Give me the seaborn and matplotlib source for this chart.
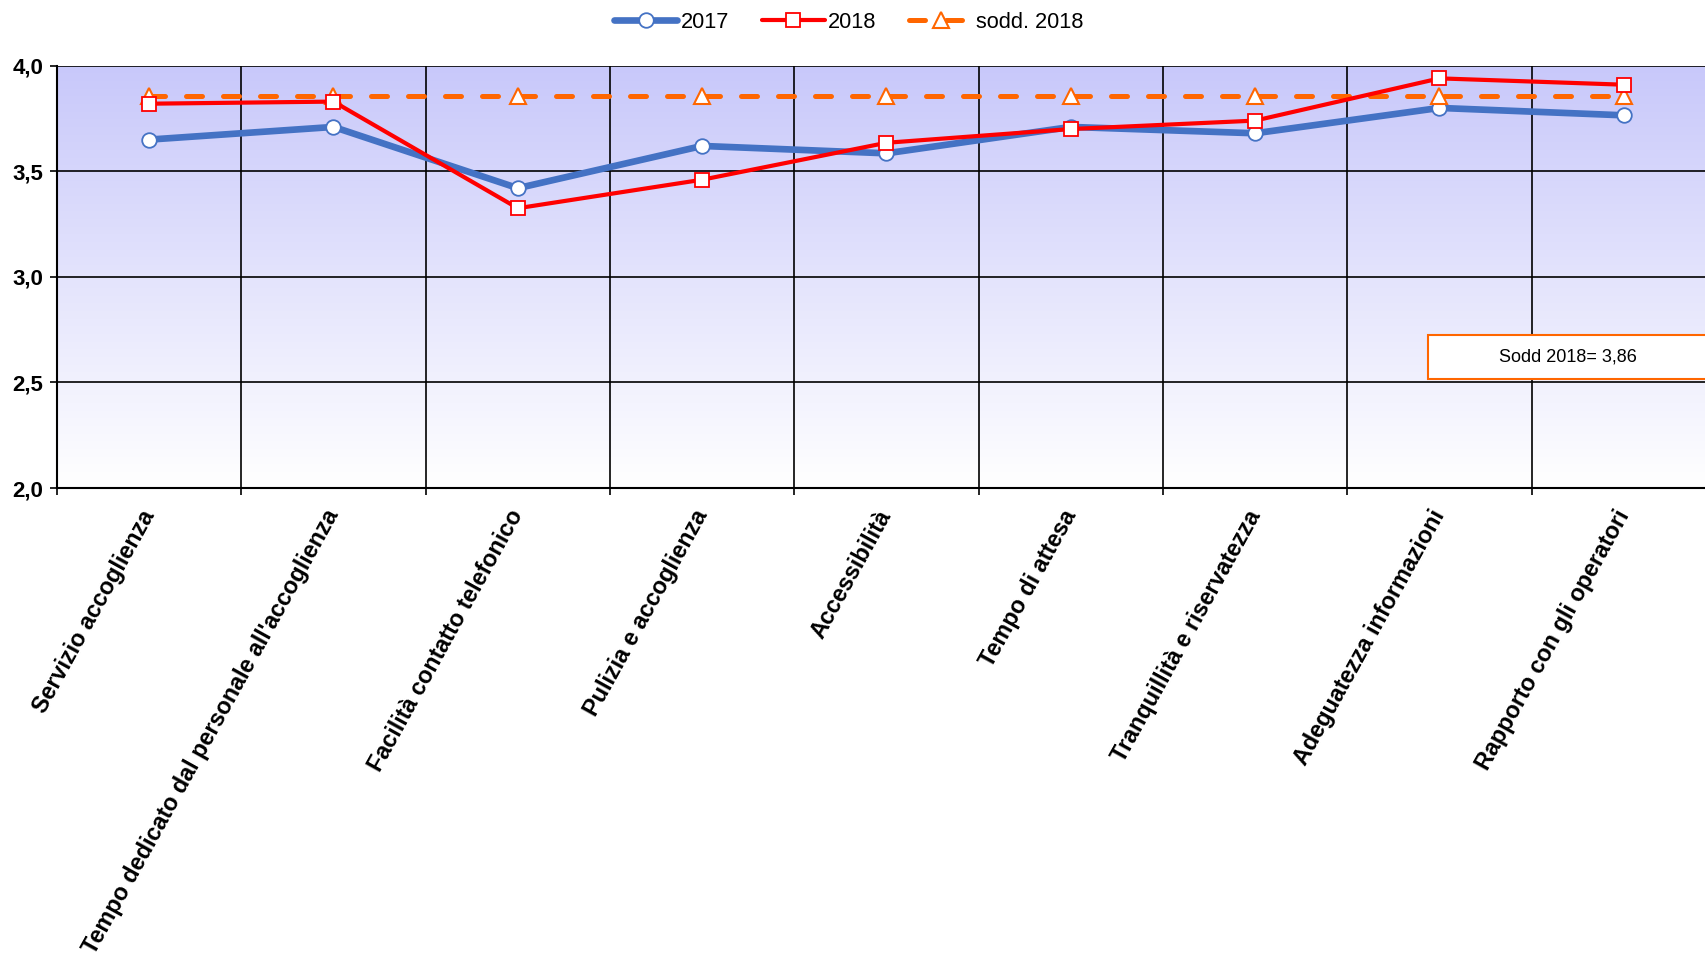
import numpy as np
import pandas as pd
import matplotlib
matplotlib.use("Agg")
import matplotlib.pyplot as plt
import seaborn as sns
from matplotlib.patches import Rectangle
from matplotlib.ticker import FuncFormatter, FixedLocator

categories = [
    "Servizio accoglienza",
    "Tempo dedicato dal personale all'accoglienza",
    "Facilità contatto telefonico",
    "Pulizia e accoglienza",
    "Accessibilità",
    "Tempo di attesa",
    "Tranquillità e riservatezza",
    "Adeguatezza informazioni",
    "Rapporto con gli operatori",
]
values_2017 = [3.65, 3.71, 3.42, 3.62, 3.585, 3.71, 3.68, 3.80, 3.765]
values_2018 = [3.82, 3.83, 3.325, 3.46, 3.635, 3.70, 3.74, 3.94, 3.91]
sodd_2018 = [3.855, 3.855, 3.855, 3.855, 3.855, 3.855, 3.855, 3.855, 3.855]
series_labels = ["2017", "2018", "sodd. 2018"]
y_ticks = [2.0, 2.5, 3.0, 3.5, 4.0]
annotation_text = "Sodd 2018= 3,86"

sns.set_theme(style="white")
plt.rcParams["font.family"] = ["Liberation Sans", "DejaVu Sans"]
plt.rcParams["text.color"] = "black"
plt.rcParams["xtick.color"] = "black"
plt.rcParams["ytick.color"] = "black"
plt.rcParams["xtick.labelcolor"] = "black"
plt.rcParams["ytick.labelcolor"] = "black"

fig = plt.figure(figsize=(17.06, 9.6), dpi=100)
ax = fig.add_axes([57 / 1706, (960 - 488) / 960, (1716 - 57) / 1706, (488 - 65.7) / 960])

x = np.arange(len(categories))
df = pd.DataFrame({"x": x, "v2017": values_2017, "v2018": values_2018, "sodd": sodd_2018})

# gradient background
n = 256
top = np.array([200, 200, 250]) / 255.0
bot = np.array([255, 255, 255]) / 255.0
t = np.linspace(0, 1, n)[:, None]
grad = top[None, :] * (1 - t) + bot[None, :] * t
ax.imshow(grad[:, None, :], extent=[-0.5, len(categories) - 0.5, 2.0, 4.0],
          aspect="auto", origin="upper", zorder=0, interpolation="bilinear")

sns.lineplot(data=df, x="x", y="sodd", ax=ax, color="#FF6600", lw=3.6,
             marker="^", markersize=11, markerfacecolor="white",
             markeredgecolor="#FF6600", markeredgewidth=1.5,
             dashes=False, label=series_labels[2], zorder=4, sort=False)
ax.lines[-1].set_dashes([3.2, 4.2])
ax.lines[-1].set_dash_capstyle("round")
sns.lineplot(data=df, x="x", y="v2017", ax=ax, color="#4472C4", lw=4.8,
             marker="o", markersize=10.5, markerfacecolor="white",
             markeredgecolor="#4472C4", markeredgewidth=1.3,
             label=series_labels[0], zorder=3, sort=False)
sns.lineplot(data=df, x="x", y="v2018", ax=ax, color="#FF0000", lw=3.0,
             marker="s", markersize=10.5, markerfacecolor="white",
             markeredgecolor="#FF0000", markeredgewidth=1.3,
             label=series_labels[1], zorder=5, sort=False)

ax.set_xlim(-0.5, len(categories) - 0.5)
ax.set_ylim(2.0, 4.0)
ax.set_xlabel("")
ax.set_ylabel("")

ax.set_yticks(y_ticks)
ax.yaxis.set_major_formatter(FuncFormatter(lambda v, p: f"{v:.1f}".replace(".", ",")))
ax.set_xticks(x)
ax.set_xticklabels(categories, rotation=61, ha="right", va="center",
                   rotation_mode="anchor", fontsize=16.8, fontweight="bold", color="black")
ax.xaxis.set_minor_locator(FixedLocator(np.arange(-0.5, len(categories), 1.0)))
ax.tick_params(axis="x", which="major", length=0, pad=17)
ax.tick_params(axis="x", which="minor", length=5, width=1.2, color="black", direction="out", bottom=True)
ax.tick_params(axis="y", which="major", length=5, width=1.2, color="black", direction="out",
               left=True, labelsize=16, pad=5)
for lab in ax.get_yticklabels():
    lab.set_fontweight("bold")
    lab.set_color("black")

ax.grid(False)
ax.yaxis.grid(True, color="black", lw=1.2, zorder=1)
ax.xaxis.grid(True, which="minor", color="black", lw=1.2, zorder=1)
ax.set_axisbelow(True)
for s in ["top", "right"]:
    ax.spines[s].set_visible(False)
for s in ["left", "bottom"]:
    ax.spines[s].set_color("black")
    ax.spines[s].set_linewidth(1.5)

leg = ax.get_legend()
handles, labels = ax.get_legend_handles_labels()
leg.remove()
order = [labels.index(l) for l in series_labels]
fig.legend([handles[i] for i in order], [labels[i] for i in order],
           loc="center", bbox_to_anchor=(0.4975, 0.977), ncol=3, frameon=False,
           fontsize=15.7, handlelength=2.9, columnspacing=1.5, handletextpad=0.15,
           labelcolor="black")

rect = Rectangle((1428 / 1706, (960 - 379) / 960), (1730 - 1428) / 1706, 44 / 960,
                 transform=fig.transFigure, facecolor="white", edgecolor="#FF6600",
                 lw=1.5, zorder=10)
fig.add_artist(rect)
fig.text(1568 / 1706, (960 - 357) / 960, annotation_text, ha="center", va="center",
         fontsize=13, color="black", zorder=11)

fig.savefig("out.png", dpi=100)
